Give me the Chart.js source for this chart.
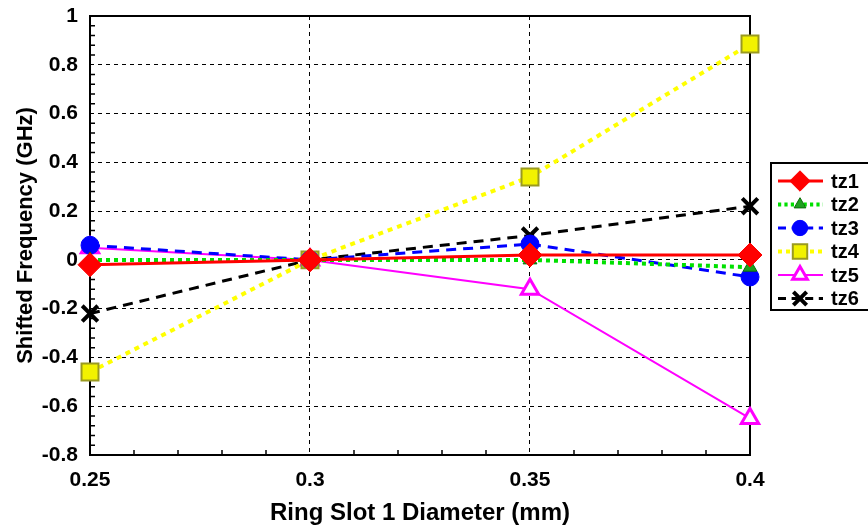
<!DOCTYPE html>
<html>
<head>
<meta charset="utf-8">
<script src="https://cdn.jsdelivr.net/npm/chart.js@4"></script>
<style>
  html, body { margin: 0; padding: 0; background: #fff; }
  #wrap { width: 868px; height: 528px; }
</style>
</head>
<body>
<div id="wrap"><canvas id="c" width="868" height="528"></canvas></div>
<script>
// ── Data ────────────────────────────────────────────────────
const xValues = [0.25, 0.3, 0.35, 0.4];
const xTicks  = [0.25, 0.3, 0.35, 0.4];
const yTicks  = [1, 0.8, 0.6, 0.4, 0.2, 0, -0.2, -0.4, -0.6, -0.8];

const tz1 = [-0.02, 0, 0.02, 0.02];
const tz2 = [0, 0, 0, -0.03];
const tz3 = [0.06, 0, 0.065, -0.07];
const tz4 = [-0.46, 0, 0.34, 0.885];
const tz5 = [0.05, 0, -0.12, -0.65];
const tz6 = [-0.22, 0, 0.1, 0.22];

const FONT = "'Liberation Sans', Arial, sans-serif";

const pts = (ys) => xValues.map((x, i) => ({ x, y: ys[i] }));

const series = [
  { label: 'tz1', data: tz1, color: '#ff0000', width: 3,   dash: [],      style: 'rectRot',  radius: 12, fill: '#ff0000', border: '#ff0000', bw: 1 },
  { label: 'tz2', data: tz2, color: '#00e000', width: 4,   dash: [4, 4],  style: 'triangle', radius: 8,  fill: '#1fa01f', border: '#0b6e0b', bw: 1 },
  { label: 'tz3', data: tz3, color: '#0000ff', width: 3,   dash: [10, 7], style: 'circle',   radius: 9,  fill: '#0000ff', border: '#0000ff', bw: 1 },
  { label: 'tz4', data: tz4, color: '#ffff00', width: 4,   dash: [5, 5],  style: 'rect',     radius: 12, fill: '#f2f200', border: '#9a9a20', bw: 2 },
  { label: 'tz5', data: tz5, color: '#ff00ff', width: 2,   dash: [],      style: 'triangle', radius: 10, fill: '#ffffff', border: '#ff00ff', bw: 3 },
  { label: 'tz6', data: tz6, color: '#000000', width: 3,   dash: [10, 7], style: 'crossRot', radius: 11, fill: '#000000', border: '#000000', bw: 4 },
];

// ── Plot box + inward minor ticks ───────────────────────────
const frame = {
  id: 'frame',
  beforeDatasetsDraw(chart) {
    const { ctx, chartArea: a, scales } = chart;
    ctx.save();
    ctx.strokeStyle = '#000';
    ctx.lineWidth = 2;
    ctx.strokeRect(a.left, a.top, a.right - a.left, a.bottom - a.top);
    ctx.lineWidth = 1.5;
    const minor = (vals, scale, draw) => {
      for (let i = 0; i < vals.length - 1; i++) {
        for (let k = 1; k < 5; k++) {
          draw(scale.getPixelForValue(vals[i] + (vals[i + 1] - vals[i]) * k / 5));
        }
      }
    };
    ctx.beginPath();
    minor(xTicks, scales.x, (px) => { ctx.moveTo(px, a.bottom); ctx.lineTo(px, a.bottom - 5); });
    minor(yTicks, scales.y, (py) => { ctx.moveTo(a.left, py); ctx.lineTo(a.left + 5, py); });
    ctx.stroke();
    ctx.restore();
  },
};

// ── Legend with line + marker samples ───────────────────────
const lineLegend = {
  id: 'lineLegend',
  afterDraw(chart) {
    const { ctx } = chart;
    const left = 771, top = 163, bottom = 310, rowH = 23.5;
    ctx.save();
    ctx.fillStyle = '#fff';
    ctx.fillRect(left, top, 868 - left, bottom - top);
    ctx.strokeStyle = '#000';
    ctx.lineWidth = 2;
    ctx.strokeRect(left, top, 868 - left + 10, bottom - top);
    series.forEach((s, i) => {
      const y = top + 18 + i * rowH;
      ctx.strokeStyle = s.color;
      ctx.lineWidth = s.width;
      ctx.setLineDash(s.dash.map(d => d * 0.8));
      ctx.beginPath();
      ctx.moveTo(778, y);
      ctx.lineTo(823, y);
      ctx.stroke();
      ctx.setLineDash([]);
      ctx.fillStyle = s.fill;
      ctx.strokeStyle = s.border;
      ctx.lineWidth = s.bw;
      Chart.helpers.drawPoint(ctx, { pointStyle: s.style, radius: s.radius * 0.85, rotation: 0, borderWidth: s.bw }, 800, y);
      ctx.fillStyle = '#000';
      ctx.font = `bold 20px ${FONT}`;
      ctx.textBaseline = 'middle';
      ctx.fillText(s.label, 831, y + 1);
    });
    ctx.restore();
  },
};

const edgeGrid = (vals) => (c) => {
  const v = c.tick && c.tick.value;
  return (v === vals[0] || v === vals[vals.length - 1]) ? 'rgba(0,0,0,0)' : '#000';
};

new Chart(document.getElementById('c'), {
  type: 'line',
  data: {
    datasets: series.map((s) => ({
      label: s.label,
      data: pts(s.data),
      borderColor: s.color,
      borderWidth: s.width,
      borderDash: s.dash,
      pointStyle: s.style,
      pointRadius: s.radius,
      pointBackgroundColor: s.fill,
      pointBorderColor: s.border,
      pointBorderWidth: s.bw,
      pointHoverRadius: s.radius,
      tension: 0,
      fill: false,
      clip: false,
    })),
  },
  options: {
    responsive: false,
    animation: false,
    events: [],
    layout: { padding: { top: 16, right: 118, left: 0, bottom: 0 } },
    plugins: {
      legend: { display: false },
      tooltip: { enabled: false },
    },
    scales: {
      x: {
        type: 'linear',
        min: 0.25,
        max: 0.4,
        afterBuildTicks: (s) => { s.ticks = xTicks.map(v => ({ value: v })); },
        afterFit: (s) => { s.height = 73; s.paddingLeft = 0; s.paddingRight = 0; },
        ticks: {
          color: '#000',
          font: { family: FONT, size: 21, weight: 'bold' },
          padding: 13,
          maxRotation: 0,
          callback: (v) => String(v),
        },
        grid: { color: edgeGrid(xTicks), lineWidth: 1, drawTicks: false },
        border: { display: false, dash: [4, 4] },
        title: {
          display: true,
          text: 'Ring Slot 1 Diameter (mm)',
          color: '#000',
          font: { family: FONT, size: 24, weight: 'bold' },
          padding: { top: 4, bottom: 0 },
        },
      },
      y: {
        min: -0.8,
        max: 1,
        afterBuildTicks: (s) => { s.ticks = yTicks.map(v => ({ value: v })); },
        afterFit: (s) => { s.width = 90; s.paddingTop = 0; s.paddingBottom = 0; },
        ticks: {
          color: '#000',
          font: { family: FONT, size: 21, weight: 'bold' },
          padding: 12,
          callback: (v) => String(v),
        },
        grid: { color: edgeGrid(yTicks), lineWidth: 1, drawTicks: false },
        border: { display: false, dash: [4, 4] },
        title: {
          display: true,
          text: 'Shifted Frequency (GHz)',
          color: '#000',
          font: { family: FONT, size: 22, weight: 'bold' },
          padding: { top: 13, bottom: 4 },
        },
      },
    },
  },
  plugins: [frame, lineLegend],
});
</script>
</body>
</html>
